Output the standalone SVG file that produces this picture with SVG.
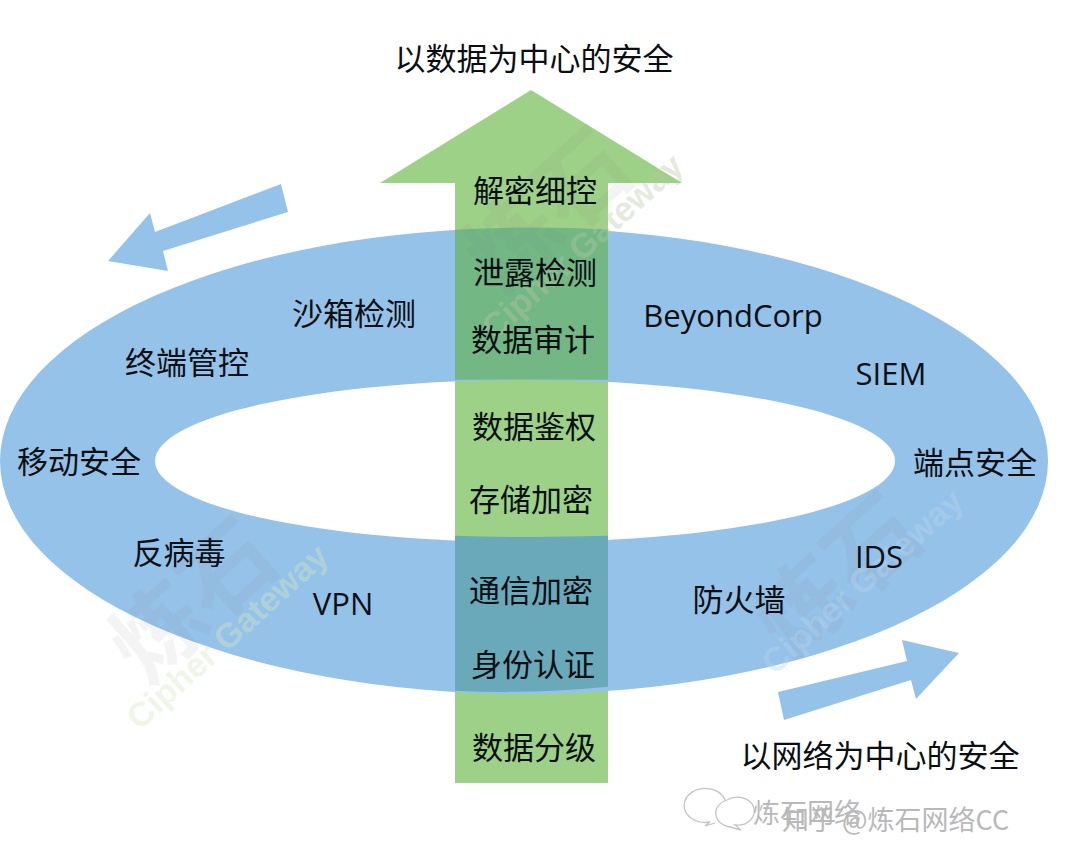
<svg xmlns="http://www.w3.org/2000/svg" width="1080" height="863" viewBox="0 0 1080 863">
<defs>
<style>
text{font-family:"Noto Sans CJK SC","Noto Sans",sans-serif;font-size:31px;fill:#0b0f14;text-anchor:middle}
.lat{font-family:"Open Sans","Noto Sans CJK SC",sans-serif;font-size:31px}
.wm{font-family:"Noto Sans CJK SC",sans-serif;font-size:92px;font-weight:700;fill:#808080;fill-opacity:.09}
.wg{font-family:"Liberation Sans",sans-serif;font-size:34px;font-weight:700;fill:#d8e8c0;fill-opacity:.4}
.cr{font-size:27px;fill:#b9b9b9;text-anchor:start}
</style>
<clipPath id="shaft"><rect x="455" y="183" width="153" height="600"/></clipPath>
</defs>
<rect width="1080" height="863" fill="#fff"/>
<g id="connectors">
<polygon id="arrow-left" points="108,261 150,213 155,232 281,184 288,212 163,251 168,271" fill="#95c2e9"/>
<polygon id="arrow-right" points="959,653 902,640 907,661 778,692 784,720 911,680 916,699" fill="#95c2e9"/>
</g>
<g id="up-arrow"><polygon points="531,90 682,183 608,183 608,783 455,783 455,183 380,183" fill="#9dd187"/></g>
<g id="ring">
<path fill="#95c2e9" fill-rule="evenodd" d="M0,461A524,233 0 1 1 1048,461A524,233 0 1 1 0,461ZM155,461A370,81 0 1 0 895,461A370,81 0 1 0 155,461Z"/>
<g clip-path="url(#shaft)">
<path fill="#72b784" d="M350,240Q530,215 720,240L720,381Q530,378 350,381Z"/>
<path fill="#69a9b9" d="M350,530Q530,544 720,530L720,670Q530,708 350,680Z"/>
</g>
</g>
<g id="watermarks">
<text class="wm" transform="translate(570,235) rotate(-42)">炼石</text>
<text class="wm" transform="translate(215,625) rotate(-42)">炼石</text>
<text class="wm" transform="translate(860,600) rotate(-42)">炼石</text>
<text class="wg" transform="translate(235,645) rotate(-42)">Cipher Gateway</text>
<text class="wg" transform="translate(870,590) rotate(-42)" style="fill:#b8d4ec">Cipher Gateway</text>
<text class="wg" transform="translate(590,255) rotate(-42)" style="fill:#b8c8a8">Cipher Gateway</text>
</g>
<g id="titles">
<text x="534" y="70">以数据为中心的安全</text>
<text x="880" y="767">以网络为中心的安全</text>
</g>
<g id="data-labels">
<text x="535" y="202">解密细控</text>
<text x="535" y="284">泄露检测</text>
<text x="533" y="351">数据审计</text>
<text x="534" y="438">数据鉴权</text>
<text x="531" y="511">存储加密</text>
<text x="531" y="602">通信加密</text>
<text x="533" y="676">身份认证</text>
<text x="534" y="759">数据分级</text>
</g>
<g id="network-labels">
<text x="354" y="325">沙箱检测</text>
<text x="187" y="374">终端管控</text>
<text x="79" y="473">移动安全</text>
<text x="179" y="564">反病毒</text>
<text class="lat" x="343" y="615">VPN</text>
<text class="lat" x="733" y="327">BeyondCorp</text>
<text class="lat" x="891" y="385">SIEM</text>
<text x="975" y="474">端点安全</text>
<text class="lat" x="879" y="568">IDS</text>
<text x="739" y="611">防火墙</text>
</g>
<g id="footer">
<g fill="#fff" stroke="#c4c4c4" stroke-width="1.3">
<path d="M724,813a21,17 0 1 0 -14,9l-5,4 10,-3"/>
<path d="M727,800a17,14 0 1 1 8,25l6,5 -11,-3a17,14 0 0 1 -3,-27z"/>
</g>
<text class="cr" x="753" y="823">炼石网络</text>
<text class="cr" x="782" y="830">知乎 @炼石网络CC</text>
</g>
</svg>
